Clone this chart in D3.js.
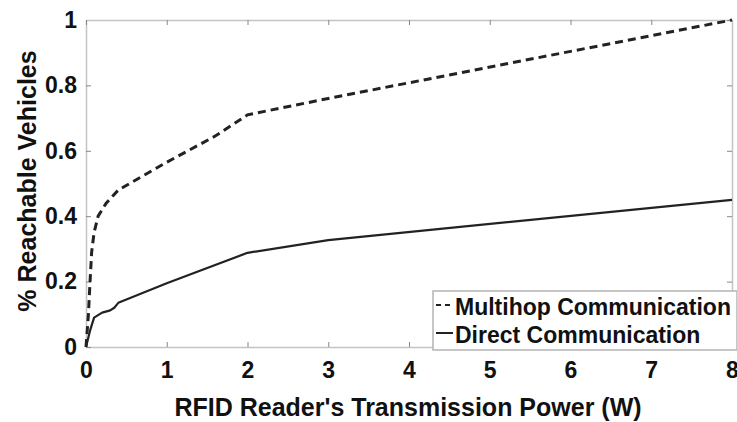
<!DOCTYPE html>
<html lang="en">
<head>
<meta charset="UTF-8">
<title>Reachable Vehicles</title>
<style>
  body { margin: 0; background: #fff; }
  text { font-family: "Liberation Sans", Arial, sans-serif; font-weight: bold; fill: #111; }
</style>
</head>
<body>
<script src="https://d3js.org/d3.v7.min.js"></script>
<script>
// values
var multihopX = [0, 0.03, 0.05, 0.07, 0.1, 0.15, 0.25, 0.4, 1, 1.6, 2, 3, 8];
var multihopY = [0, 0.10, 0.20, 0.29, 0.35, 0.40, 0.44, 0.48, 0.565, 0.645, 0.71, 0.76, 1.0];
var directX = [0, 0.05, 0.1, 0.2, 0.3, 0.35, 0.4, 0.5, 1, 2, 3, 8];
var directY = [0, 0.05, 0.09, 0.105, 0.112, 0.12, 0.135, 0.145, 0.195, 0.288, 0.327, 0.45];
var xTicks = [0, 1, 2, 3, 4, 5, 6, 7, 8];
var yTicks = [0, 0.2, 0.4, 0.6, 0.8, 1];
var yTickLabels = ['0', '0.2', '0.4', '0.6', '0.8', '1'];
var seriesNames = ['Multihop Communication', 'Direct Communication'];

var W = 737, H = 422;
var margin = {top: 20, right: 5, bottom: 75, left: 86};
var width = W - margin.left - margin.right;
var height = H - margin.top - margin.bottom;

var svg = d3.select('body').append('svg')
  .attr('width', W)
  .attr('height', H);

var g = svg.append('g')
  .attr('transform', `translate(${margin.left},${margin.top})`);

var x = d3.scaleLinear().domain([0, 8]).range([0, width]);
var y = d3.scaleLinear().domain([0, 1]).range([height, 0]);

// box + inward ticks on all four sides
function styleAxis(sel) {
  sel.selectAll('.domain').attr('stroke', '#c4c4c4').attr('stroke-width', 1.5);
  sel.selectAll('.tick line').attr('stroke', '#888').attr('stroke-width', 1);
}

var xb = g.append('g').attr('transform', `translate(0,${height})`)
  .call(d3.axisBottom(x).tickValues(xTicks).tickSizeInner(-5).tickSizeOuter(0).tickPadding(14));
styleAxis(xb);
xb.selectAll('text').style('font-size', '23px').attr('fill', '#111').attr('dy', '0.71em').attr('y', 15);

var yl = g.append('g')
  .call(d3.axisLeft(y).tickValues(yTicks).tickFormat((d, i) => yTickLabels[i]).tickSizeInner(-5).tickSizeOuter(0).tickPadding(14));
styleAxis(yl);
yl.selectAll('text').style('font-size', '23px').attr('fill', '#111').attr('x', -9);

var xt = g.append('g')
  .call(d3.axisTop(x).tickValues(xTicks).tickSizeInner(-5).tickSizeOuter(0).tickFormat(''));
styleAxis(xt);

var yr = g.append('g').attr('transform', `translate(${width},0)`)
  .call(d3.axisRight(y).tickValues(yTicks).tickSizeInner(-5).tickSizeOuter(0).tickFormat(''));
styleAxis(yr);

// lines
var line = d3.line().x(d => x(d[0])).y(d => y(d[1]));

var multihop = multihopX.map((v, i) => [v, multihopY[i]]);
var direct = directX.map((v, i) => [v, directY[i]]);

g.append('path')
  .datum(direct)
  .attr('d', line)
  .attr('fill', 'none')
  .attr('stroke', '#222')
  .attr('stroke-width', 2.2)
  .attr('stroke-linejoin', 'round');

g.append('path')
  .datum(multihop)
  .attr('d', line)
  .attr('fill', 'none')
  .attr('stroke', '#222')
  .attr('stroke-width', 3)
  .attr('stroke-dasharray', '8,5');

// axis titles
svg.append('text')
  .text("RFID Reader's Transmission Power (W)")
  .attr('x', margin.left + width / 2 - 1)
  .attr('y', 416)
  .attr('text-anchor', 'middle')
  .style('font-size', '25px');

svg.append('text')
  .text('% Reachable Vehicles')
  .attr('transform', `translate(36,181) rotate(-90)`)
  .attr('text-anchor', 'middle')
  .style('font-size', '25px');

// legend
var legend = svg.append('g').attr('transform', 'translate(433,291)');
legend.append('rect')
  .attr('width', 304)
  .attr('height', 59)
  .attr('fill', '#fff')
  .attr('stroke', '#b4b4b4')
  .attr('stroke-width', 1.5);

var rows = legend.selectAll('.row')
  .data(seriesNames)
  .enter().append('g')
  .attr('class', 'row')
  .attr('transform', (d, i) => `translate(0,${i * 28})`);

rows.append('line')
  .attr('x1', 3).attr('x2', 20)
  .attr('y1', 14).attr('y2', 14)
  .attr('stroke', '#222')
  .attr('stroke-width', 2)
  .attr('stroke-dasharray', (d, i) => i === 0 ? '5,4' : null);

rows.append('text')
  .text(d => d)
  .attr('x', 22)
  .attr('y', 24)
  .style('font-size', '23px');
</script>
</body>
</html>
